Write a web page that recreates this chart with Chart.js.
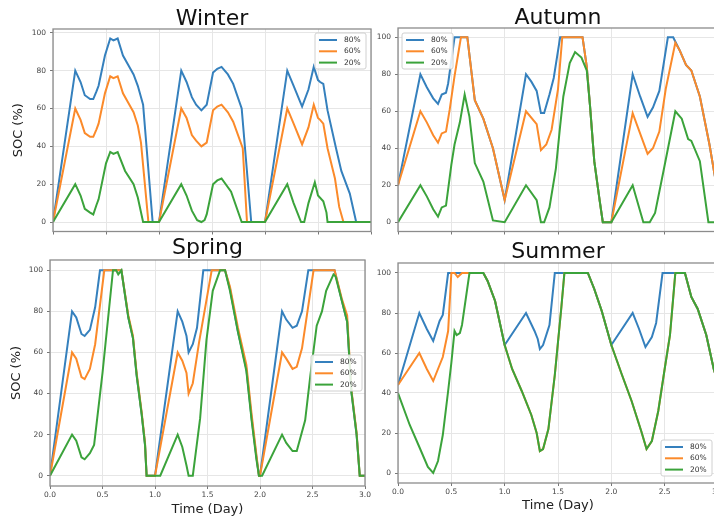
<!DOCTYPE html>
<html>
<head>
<meta charset="utf-8">
<script src="https://cdn.jsdelivr.net/npm/chart.js@4"></script>
<style>
  html, body { margin: 0; padding: 0; background: #fff; }
  body { width: 714px; height: 517px; overflow: hidden; position: relative; }
  canvas { position: absolute; }
</style>
</head>
<body>
<canvas id="winter" width="380" height="240" style="left:0px;top:0px"></canvas>
<canvas id="autumn" width="370" height="240" style="left:360px;top:0px"></canvas>
<canvas id="spring" width="380" height="281" style="left:0px;top:236px"></canvas>
<canvas id="summer" width="370" height="281" style="left:360px;top:236px"></canvas>
<script>
// tick labels and series names
const xTicks = [0, 0.5, 1, 1.5, 2, 2.5, 3];
const yTicks = [0, 20, 40, 60, 80, 100];
const seriesLabels = ["80%", "60%", "20%"];

// Winter
const winterT80 = [0, 0.21, 0.26, 0.3, 0.35, 0.38, 0.41, 0.43, 0.49, 0.54, 0.57, 0.61, 0.66, 0.71, 0.76, 0.8, 0.85, 0.94, 1.0, 1.21, 1.26, 1.31, 1.35, 1.4, 1.45, 1.51, 1.55, 1.59, 1.65, 1.7, 1.78, 1.87, 2.0, 2.21, 2.27, 2.35, 2.41, 2.46, 2.5, 2.52, 2.55, 2.59, 2.67, 2.72, 2.8, 2.86, 3.0];
const winter80 = [0, 80, 74, 67, 65, 65, 69, 72, 88, 97, 96, 97, 88, 83, 78, 72, 62, 0, 0, 80, 74, 66, 62, 59, 62, 79, 81, 82, 78, 73, 60, 0, 0, 80, 72, 61, 70, 82, 75, 74, 73, 59, 39, 27, 15, 0, 0];
const winterT60 = [0, 0.21, 0.26, 0.3, 0.35, 0.38, 0.41, 0.43, 0.49, 0.54, 0.57, 0.61, 0.66, 0.71, 0.76, 0.8, 0.83, 0.9, 1.0, 1.21, 1.26, 1.31, 1.35, 1.4, 1.45, 1.51, 1.55, 1.59, 1.65, 1.7, 1.79, 1.83, 2.0, 2.21, 2.27, 2.35, 2.41, 2.46, 2.5, 2.52, 2.55, 2.59, 2.66, 2.7, 2.74, 3.0];
const winter60 = [0, 60, 54, 47, 45, 45, 49, 52, 68, 77, 76, 77, 68, 63, 58, 51, 42, 0, 0, 60, 55, 46, 43, 40, 42, 59, 61, 62, 58, 53, 39, 0, 0, 60, 52, 41, 50, 62, 55, 54, 52, 39, 23, 8, 0, 0];
const winterT20 = [0, 0.21, 0.26, 0.3, 0.35, 0.38, 0.41, 0.43, 0.5, 0.54, 0.57, 0.61, 0.68, 0.76, 0.8, 0.85, 1.0, 1.21, 1.26, 1.31, 1.36, 1.4, 1.43, 1.45, 1.51, 1.55, 1.59, 1.68, 1.78, 2.0, 2.21, 2.27, 2.34, 2.37, 2.41, 2.47, 2.5, 2.55, 2.58, 2.59, 3.0];
const winter20 = [0, 20, 14, 7, 5, 4, 9, 12, 31, 37, 36, 37, 27, 20, 13, 0, 0, 20, 14, 6, 1, 0, 1, 4, 20, 22, 23, 16, 0, 0, 20, 10, 0, 0, 10, 21, 14, 11, 5, 0, 0];

// Autumn
const autumnT80 = [0, 0.21, 0.27, 0.33, 0.375, 0.41, 0.45, 0.47, 0.53, 0.65, 0.72, 0.8, 0.89, 1.0, 1.2, 1.25, 1.3, 1.34, 1.37, 1.42, 1.46, 1.52, 1.73, 1.77, 1.8, 1.84, 1.89, 1.92, 2.0, 2.2, 2.27, 2.34, 2.39, 2.45, 2.53, 2.58, 2.64, 2.7, 2.75, 2.83, 2.92, 2.97, 3.0];
const autumn80 = [20, 80, 73, 67, 64, 69, 70, 75, 100, 100, 66, 56, 40, 12, 80, 76, 71, 59, 59, 69, 78, 100, 100, 84, 63, 33, 12, 0, 0, 80, 68, 57, 62, 71, 100, 100, 93, 85, 82, 68, 42, 25, 18];
const autumnT60 = [0, 0.21, 0.27, 0.33, 0.375, 0.41, 0.45, 0.485, 0.53, 0.59, 0.65, 0.72, 0.8, 0.89, 1.0, 1.2, 1.3, 1.34, 1.39, 1.44, 1.5, 1.54, 1.73, 1.77, 1.8, 1.84, 1.89, 1.92, 2.0, 2.2, 2.34, 2.39, 2.45, 2.51, 2.6, 2.64, 2.7, 2.75, 2.83, 2.92, 2.97, 3.0];
const autumn60 = [20, 60, 54, 47, 43, 48, 49, 61, 79, 100, 100, 66, 56, 40, 12, 60, 53, 39, 42, 50, 72, 100, 100, 84, 63, 33, 12, 0, 0, 59, 37, 40, 49, 72, 97, 93, 85, 82, 68, 42, 25, 18];
const autumnT20 = [0, 0.21, 0.27, 0.33, 0.375, 0.41, 0.45, 0.5, 0.53, 0.58, 0.625, 0.67, 0.72, 0.8, 0.89, 1.0, 1.2, 1.3, 1.34, 1.37, 1.42, 1.48, 1.52, 1.55, 1.61, 1.66, 1.72, 1.77, 1.8, 1.84, 1.89, 1.92, 2.0, 2.2, 2.3, 2.36, 2.41, 2.49, 2.6, 2.66, 2.72, 2.75, 2.83, 2.91, 3.0];
const autumn20 = [0, 20, 14, 7, 3, 8, 9, 31, 42, 54, 69, 57, 32, 22, 1, 0, 20, 12, 0, 0, 8, 29, 52, 68, 86, 92, 89, 82, 63, 33, 12, 0, 0, 20, 0, 0, 5, 28, 60, 56, 45, 44, 33, 0, 0];

// Spring
const springT80 = [0, 0.21, 0.25, 0.3, 0.33, 0.38, 0.43, 0.476, 0.68, 0.746, 0.79, 0.825, 0.873, 0.905, 0.92, 1.0, 1.216, 1.26, 1.3, 1.32, 1.36, 1.4, 1.46, 1.667, 1.714, 1.79, 1.87, 1.92, 1.966, 1.99, 2.0, 2.21, 2.25, 2.31, 2.35, 2.4, 2.46, 2.71, 2.78, 2.83, 2.87, 2.92, 2.95, 3.0];
const spring80 = [0, 80, 77, 69, 68, 71, 82, 100, 100, 77, 67, 49, 30, 15, 0, 0, 80, 75, 68, 60, 64, 72, 100, 100, 91, 70, 52, 28, 9, 0, 0, 80, 76, 72, 73, 80, 100, 100, 85, 75, 41, 20, 0, 0];
const springT60 = [0, 0.21, 0.25, 0.3, 0.33, 0.38, 0.43, 0.517, 0.68, 0.746, 0.79, 0.825, 0.873, 0.905, 0.92, 1.0, 1.216, 1.26, 1.3, 1.32, 1.36, 1.42, 1.54, 1.667, 1.714, 1.79, 1.87, 1.92, 1.966, 1.99, 2.0, 2.21, 2.25, 2.31, 2.35, 2.4, 2.51, 2.71, 2.78, 2.83, 2.87, 2.92, 2.95, 3.0];
const spring60 = [0, 60, 57, 48, 47, 52, 64, 100, 100, 78, 68, 50, 31, 16, 0, 0, 60, 56, 50, 40, 45, 65, 100, 100, 92, 72, 54, 30, 10, 0, 0, 60, 57, 52, 53, 62, 100, 100, 86, 78, 42, 21, 0, 0];
const springT20 = [0, 0.21, 0.25, 0.3, 0.33, 0.38, 0.42, 0.5, 0.6, 0.63, 0.65, 0.68, 0.746, 0.79, 0.825, 0.873, 0.905, 0.92, 1.05, 1.216, 1.26, 1.3, 1.32, 1.36, 1.38, 1.43, 1.49, 1.55, 1.62, 1.667, 1.714, 1.79, 1.87, 1.92, 1.966, 1.99, 2.02, 2.21, 2.25, 2.31, 2.35, 2.43, 2.48, 2.54, 2.59, 2.63, 2.7, 2.72, 2.78, 2.83, 2.87, 2.92, 2.95, 3.0];
const spring20 = [0, 20, 17, 9, 8, 11, 15, 50, 100, 100, 98, 100, 77, 67, 49, 30, 15, 0, 0, 20, 14, 5, 0, 0, 8, 28, 66, 90, 100, 100, 90, 70, 51, 27, 8, 0, 0, 20, 16, 12, 12, 27, 49, 73, 80, 90, 98, 97, 85, 75, 41, 20, 0, 0];

// Summer
const summerT80 = [0, 0.2, 0.27, 0.33, 0.39, 0.42, 0.47, 0.8, 0.84, 0.91, 1.0, 1.2, 1.28, 1.31, 1.33, 1.36, 1.42, 1.47, 1.78, 1.84, 1.91, 2.0, 2.2, 2.26, 2.32, 2.38, 2.42, 2.48, 2.69, 2.75, 2.81, 2.89, 2.96, 3.0];
const summer80 = [44, 80, 72, 66, 76, 79, 100, 100, 96, 86, 64, 80, 71, 67, 62, 64, 74, 100, 100, 92, 81, 64, 80, 72, 63, 68, 75, 100, 100, 88, 82, 69, 52, 45];
const summerT60 = [0, 0.2, 0.27, 0.33, 0.39, 0.42, 0.47, 0.5, 0.53, 0.56, 0.6, 0.8, 0.84, 0.91, 1.0, 1.07, 1.16, 1.25, 1.3, 1.33, 1.36, 1.41, 1.47, 1.53, 1.56, 1.78, 1.84, 1.91, 2.0, 2.1, 2.19, 2.28, 2.33, 2.38, 2.44, 2.5, 2.55, 2.6, 2.69, 2.75, 2.81, 2.89, 2.96, 3.0];
const summer60 = [44, 60, 52, 46, 54, 58, 71, 100, 100, 98, 100, 100, 96, 86, 64, 52, 41, 29, 20, 11, 12, 22, 49, 82, 100, 100, 92, 81, 64, 49, 36, 21, 12, 16, 31, 52, 69, 100, 100, 88, 82, 69, 52, 45];
const summerT20 = [0, 0.11, 0.2, 0.28, 0.33, 0.375, 0.42, 0.47, 0.5, 0.53, 0.55, 0.58, 0.6, 0.67, 0.8, 0.84, 0.91, 1.0, 1.07, 1.16, 1.25, 1.3, 1.33, 1.36, 1.41, 1.47, 1.53, 1.56, 1.78, 1.84, 1.91, 2.0, 2.1, 2.19, 2.28, 2.33, 2.38, 2.44, 2.5, 2.55, 2.6, 2.69, 2.75, 2.81, 2.89, 2.96, 3.0];
const summer20 = [40, 24, 13, 3, 0, 6, 19, 41, 55, 71, 69, 70, 74, 100, 100, 96, 86, 64, 52, 41, 29, 20, 11, 12, 22, 49, 82, 100, 100, 92, 81, 64, 49, 36, 21, 12, 16, 31, 52, 69, 100, 100, 88, 82, 69, 52, 45];

const colors = ["#3580bd", "#fb8a2a", "#3ba33b"];
const fam = "DejaVu Sans";

function pts(t, v) {
  return t.map((x, i) => ({ x: x, y: v[i] }));
}

// plot frame (all four spines)
const frame = {
  id: "frame",
  afterDatasetsDraw(chart) {
    const a = chart.chartArea, ctx = chart.ctx;
    ctx.save();
    ctx.strokeStyle = "#8c8c8c";
    ctx.lineWidth = 1.3;
    ctx.strokeRect(a.left, a.top, a.right - a.left, a.bottom - a.top);
    ctx.restore();
  }
};

// matplotlib style legend box
const boxLegend = {
  id: "boxLegend",
  afterDraw(chart, args, opts) {
    const ctx = chart.ctx;
    const x = opts.x, y = opts.y, w = 51, h = 36;
    ctx.save();
    ctx.fillStyle = "rgba(255,255,255,0.85)";
    ctx.strokeStyle = "#d0d0d0";
    ctx.lineWidth = 1;
    ctx.beginPath();
    ctx.roundRect(x, y, w, h, 2);
    ctx.fill();
    ctx.stroke();
    ctx.font = "7.5px '" + fam + "'";
    ctx.textBaseline = "middle";
    chart.data.datasets.forEach((ds, i) => {
      const ry = y + 7 + i * 11.3;
      ctx.strokeStyle = ds.borderColor;
      ctx.lineWidth = 2;
      ctx.beginPath();
      ctx.moveTo(x + 4, ry);
      ctx.lineTo(x + 22, ry);
      ctx.stroke();
      ctx.fillStyle = "#333";
      ctx.fillText(ds.label, x + 29, ry);
    });
    ctx.restore();
  }
};

function makeChart(id, title, series, o) {
  new Chart(document.getElementById(id), {
    type: "line",
    data: {
      datasets: series.map((s, i) => ({
        label: seriesLabels[i],
        data: pts(s[0], s[1]),
        borderColor: colors[i],
        backgroundColor: colors[i],
        borderWidth: 2,
        pointRadius: 0,
        tension: 0,
        fill: false,
        order: 2 - i,
      })),
    },
    options: {
      responsive: false,
      animation: false,
      layout: { padding: { right: o.padRight, top: 0, bottom: 0, left: 0 } },
      plugins: {
        legend: { display: false },
        tooltip: { enabled: false },
        title: {
          display: true,
          text: title,
          fullSize: false,
          color: "#111",
          font: { family: fam, size: 22, weight: "normal", lineHeight: 0.85 },
          padding: { top: o.titleTop, bottom: o.titleBottom },
        },
        boxLegend: { x: o.legX, y: o.legY },
      },
      scales: {
        x: {
          type: "linear",
          min: 0,
          max: 3,
          afterBuildTicks: (s) => { s.ticks = xTicks.map((v) => ({ value: v })); },
          afterFit: (s) => { s.height = o.xHeight; },
          ticks: {
            display: o.bottom,
            maxRotation: 0,
            padding: 2,
            color: "#444",
            font: { family: fam, size: 7.5 },
            callback: (v) => v.toFixed(1),
          },
          grid: { color: "#e6e6e6", tickColor: "#777", tickLength: 3 },
          border: { display: false },
          title: {
            display: o.bottom,
            text: "Time (Day)",
            color: "#222",
            font: { family: fam, size: 13 },
            padding: { top: 0, bottom: o.xTitlePad },
          },
        },
        y: {
          min: -5,
          max: o.yMax,
          afterBuildTicks: (s) => { s.ticks = yTicks.map((v) => ({ value: v })); },
          afterFit: (s) => { s.width = o.yWidth; },
          ticks: {
            padding: 4,
            color: "#444",
            font: { family: fam, size: 7.5 },
          },
          grid: { color: "#e6e6e6", tickColor: "#777", tickLength: 3 },
          border: { display: false },
          title: {
            display: o.yTitle,
            text: "SOC (%)",
            color: "#222",
            font: { family: fam, size: 13 },
            padding: { top: o.yTitlePad, bottom: 0 },
          },
        },
      },
    },
    plugins: [frame, boxLegend],
  });
}

makeChart("winter", "Winter",
  [[winterT80, winter80], [winterT60, winter60], [winterT20, winter20]],
  { padRight: 9, titleTop: 9.6, titleBottom: 0.7, xHeight: 4, yWidth: 53, yMax: 102,
    bottom: false, yTitle: true, yTitlePad: 11, xTitlePad: 0, legX: 315, legY: 33 });

makeChart("autumn", "Autumn",
  [[autumnT80, autumn80], [autumnT60, autumn60], [autumnT20, autumn20]],
  { padRight: 12, titleTop: 9.1, titleBottom: 0.2, xHeight: 4, yWidth: 38, yMax: 105,
    bottom: false, yTitle: false, yTitlePad: 0, xTitlePad: 0, legX: 42, legY: 33 });

makeChart("spring", "Spring",
  [[springT80, spring80], [springT60, spring60], [springT20, spring20]],
  { padRight: 15, titleTop: 2.6, titleBottom: 2.7, xHeight: 31, yWidth: 50, yMax: 105,
    bottom: true, yTitle: true, yTitlePad: 9, xTitlePad: 0, legX: 311, legY: 119 });

makeChart("summer", "Summer",
  [[summerT80, summer80], [summerT60, summer60], [summerT20, summer20]],
  { padRight: 12, titleTop: 7.1, titleBottom: 1.2, xHeight: 34, yWidth: 38, yMax: 105,
    bottom: true, yTitle: false, yTitlePad: 0, xTitlePad: 4, legX: 301, legY: 204 });
</script>
</body>
</html>
